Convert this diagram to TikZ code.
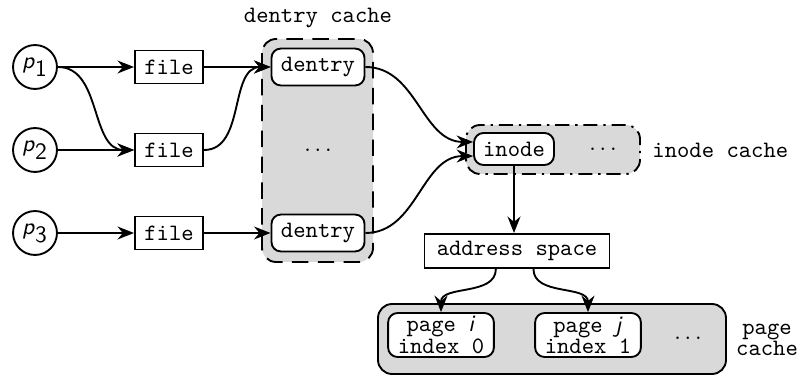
\documentclass[tikz,border=0pt]{standalone}
\usetikzlibrary{arrows.meta}
\begin{document}
\begin{tikzpicture}[x=0.4255pt,y=-0.4255pt,
  font=\ttfamily,
  arr/.style={-{Stealth[length=7pt,width=5.5pt]},thick},
  proc/.style={circle,draw,thick,minimum size=18.7pt,inner sep=0pt,font=\sffamily},
  filebox/.style={draw,thick,minimum width=29pt,minimum height=14pt,inner sep=1pt},
  cachebox/.style={draw,thick,fill=white,rounded corners=4pt,inner sep=1pt},
  cachearea/.style={fill=black!15,thick,rounded corners=6pt}]
\useasboundingbox (0,0) rectangle (799,376);
% cache areas
\draw[cachearea,dashed,dash pattern=on 7pt off 4pt] (262,39) rectangle (373,262);
\draw[cachearea,dash pattern=on 6pt off 2.5pt on 1pt off 2.5pt] (466,125) rectangle (640,174);
\draw[cachearea] (378,304) rectangle (726,374);
% labels
\node (dcl) at (318,18) {dentry cache};
\node[anchor=west,inner sep=0pt] (icl) at (652,150) {inode cache};
\node[align=center,inner sep=0pt] (pcl) at (767,340) {page\\[-3pt]cache};
% processes
\node[proc] (p1) at (35,67) {\textit{p}$_{\textsf{1}}$};
\node[proc] (p2) at (35,150) {\textit{p}$_{\textsf{2}}$};
\node[proc] (p3) at (35,233) {\textit{p}$_{\textsf{3}}$};
% files
\node[filebox] (f1) at (169,67) {file};
\node[filebox] (f2) at (169,150) {file};
\node[filebox] (f3) at (169,233) {file};
% dentries
\node[cachebox,minimum width=39.6pt,minimum height=15.7pt] (d1) at (318,67) {dentry};
\node (dd) at (318,150) {$\ldots$};
\node[cachebox,minimum width=39.6pt,minimum height=15.7pt] (d2) at (318,233) {dentry};
% inode
\node[cachebox,minimum width=34pt,minimum height=13.6pt] (in) at (514,149) {inode};
\node (idots) at (603,149) {$\ldots$};
% address space
\node[filebox,minimum width=78.7pt,minimum height=14.5pt] (as) at (517,251) {address space};
% pages
\node[cachebox,minimum width=45pt,minimum height=18.7pt,align=center] (pi) at (441,335) {page \textsf{\textit{i}}\\[-3pt]index 0};
\node[cachebox,minimum width=45pt,minimum height=18.7pt,align=center] (pj) at (588,335) {page \textsf{\textit{j}}\\[-3pt]index 1};
\node (pdots) at (688,338) {$\ldots$};
% arrows
\draw[arr] (p1) -- (f1);
\draw[arr] (p1) to[out=0,in=180] (f2);
\draw[arr] (p2) -- (f2);
\draw[arr] (p3) -- (f3);
\draw[arr] (f1) -- (d1);
\draw[arr] (f2) to[out=0,in=180] (d1);
\draw[arr] (f3) -- (d2);
\draw[arr] (d1) to[out=0,in=180] ([yshift=3pt]in.west);
\draw[arr] (d2) to[out=0,in=180] ([yshift=-3pt]in.west);
\draw[arr] (in.south) -- (in.south |- as.north);
\draw[arr] ([xshift=-9pt]as.south) to[out=-90,in=90] (pi.north);
\draw[arr] ([xshift=7pt]as.south) to[out=-90,in=90] (pj.north);
\end{tikzpicture}
\end{document}
